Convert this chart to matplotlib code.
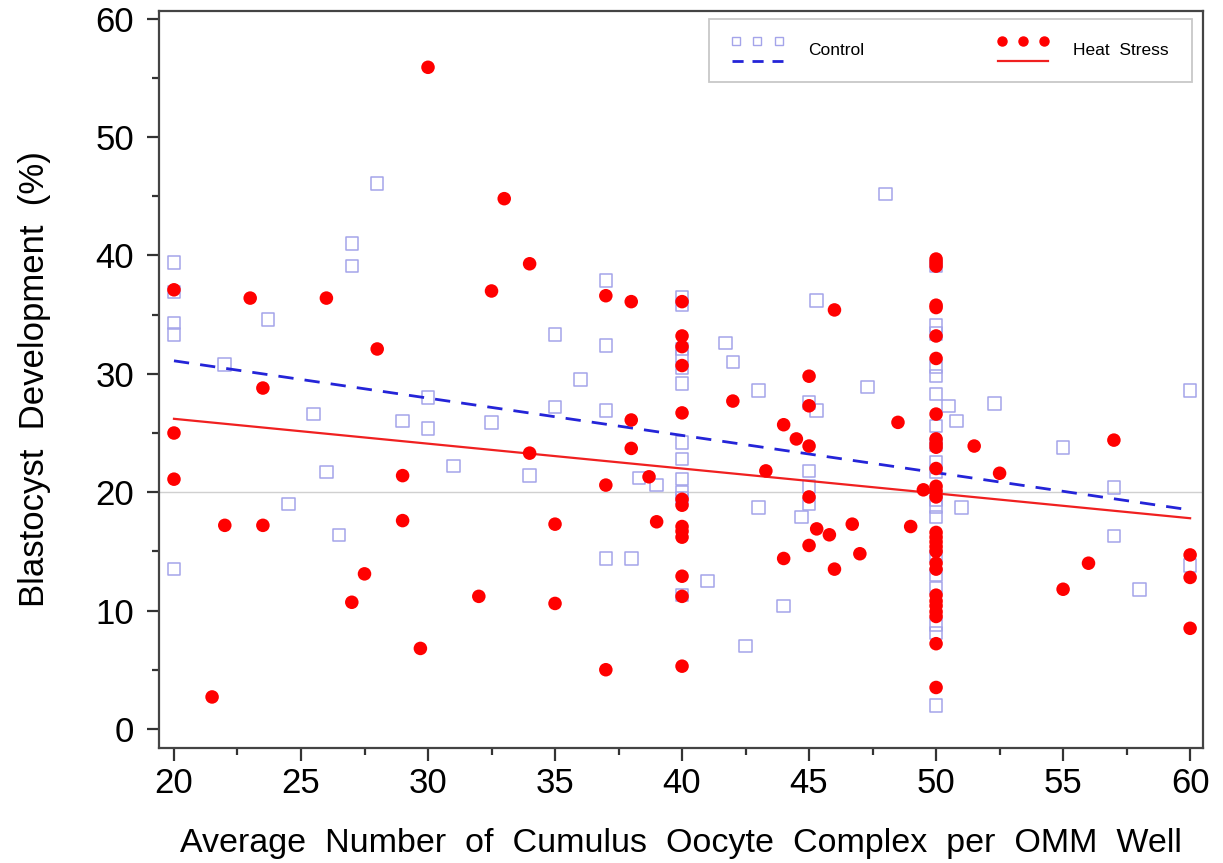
import numpy as np
import matplotlib
matplotlib.use("Agg")
import matplotlib.pyplot as plt
from matplotlib.lines import Line2D
from matplotlib.legend_handler import HandlerBase

plt.rcParams['font.family'] = ['Liberation Sans', 'DejaVu Sans']

# Control (open squares)
control_x = [20, 20, 20, 20, 20,
             22, 23.7, 24.5, 25.5, 26, 26.5,
             27, 27, 28, 29, 30, 30, 31,
             32.5, 34, 35, 35, 36, 37, 37, 37, 37,
             38, 38.3, 39,
             40, 40, 40, 40, 40, 40, 40, 40, 40, 40, 40, 40,
             41, 41.7, 42, 42.5, 43, 43, 44,
             44.7, 45, 45.3, 45, 45, 45, 45.3,
             47.3, 48,
             50, 50, 50, 50, 50, 50, 50, 50, 50, 50, 50, 50, 50, 50, 50, 50, 50, 50, 50,
             50.5, 50.8, 51, 52.3, 55, 57, 57, 58, 60, 60]
control_y = [39.4, 36.9, 34.3, 33.3, 13.5,
             30.8, 34.6, 19.0, 26.6, 21.7, 16.4,
             41.0, 39.1, 46.1, 26.0, 28.0, 25.4, 22.2,
             25.9, 21.4, 33.3, 27.2, 29.5, 37.9, 32.4, 26.9, 14.4,
             14.4, 21.2, 20.6,
             36.5, 35.8, 32.1, 31.5, 30.5, 29.2, 24.2, 22.8, 21.1, 20.0, 19.5, 11.3,
             12.5, 32.6, 31.0, 7.0, 28.6, 18.7, 10.4,
             17.9, 27.6, 26.9, 21.8, 20.5, 19.0, 36.2,
             28.9, 45.2,
             39.1, 34.1, 33.4, 30.6, 29.8, 28.3, 25.6, 24.0, 22.5, 21.7, 19.4, 18.8, 17.9,
             14.6, 13.0, 11.9, 8.8, 8.1, 2.0,
             27.3, 26.0, 18.7, 27.5, 23.8, 20.4, 16.3, 11.8, 13.8, 28.6]

# Heat stress (filled circles)
heat_x = [20, 20, 20, 21.5, 22, 23, 23.5, 23.5, 26,
          27, 27.5, 28, 29, 29, 29.7, 30, 32, 32.5,
          33, 34, 34, 35, 35, 37, 37, 37,
          38, 38, 38, 38.7, 39,
          40, 40, 40, 40, 40, 40, 40, 40, 40, 40, 40, 40, 40,
          42, 43.3, 44, 44, 44.5, 45, 45, 45, 45, 45, 45.3, 45.8, 46, 46, 46.7, 47, 48.5, 49, 49.5,
          50, 50, 50, 50, 50, 50, 50, 50, 50, 50, 50, 50, 50, 50, 50,
          50, 50, 50, 50, 50, 50, 50, 50, 50, 50, 50, 50, 50, 50,
          51.5, 52.5, 55, 56, 57, 60, 60, 60]
heat_y = [37.1, 25.0, 21.1, 2.7, 17.2, 36.4, 28.8, 17.2, 36.4,
          10.7, 13.1, 32.1, 21.4, 17.6, 6.8, 55.9, 11.2, 37.0,
          44.8, 39.3, 23.3, 17.3, 10.6, 36.6, 20.6, 5.0,
          36.1, 26.1, 23.7, 21.3, 17.5,
          36.1, 33.2, 32.3, 30.7, 26.7, 19.4, 18.9, 17.1, 16.7, 16.2, 12.9, 11.2, 5.3,
          27.7, 21.8, 25.7, 14.4, 24.5, 29.8, 27.3, 23.9, 19.6, 15.5, 16.9, 16.4, 13.5, 35.4,
          17.3, 14.8, 25.9, 17.1, 20.2,
          39.7, 39.4, 39.1, 35.8, 35.6, 33.2, 31.3, 26.6, 24.5, 24.1, 23.8, 22.0, 20.5, 20.1, 19.6,
          16.6, 16.2, 15.8, 15.4, 15.0, 14.0, 13.5, 11.3, 10.8, 10.4, 9.9, 9.5, 7.2, 3.5,
          23.9, 21.6, 11.8, 14.0, 24.4, 14.7, 12.8, 8.5]

# fitted regression lines (end points)
fit_x = [20, 60]
control_fit = [31.1, 18.5]
heat_fit = [26.2, 17.8]
ref_y = 20

sq_col = '#a4a4ea'
dash_col = '#2424d8'
red = '#ff0000'


class RowHandler(HandlerBase):
    # three markers on top, a line below (SAS style legend entry)
    def __init__(self, marker, mfc, mec, ms, ls, lc):
        super().__init__()
        self.m = (marker, mfc, mec, ms)
        self.l = (ls, lc)

    def create_artists(self, legend, orig, xd, yd, w, h, fontsize, trans):
        marker, mfc, mec, ms = self.m
        ls, lc = self.l
        xs = np.linspace(-xd + w * 0.08, -xd + w * 0.92, 3)
        pts = Line2D(xs, [h * 1.1 - yd] * 3, ls='none', marker=marker,
                     markerfacecolor=mfc, markeredgecolor=mec, markersize=ms,
                     transform=trans)
        ln = Line2D([-xd, -xd + w], [h * -0.4 - yd] * 2, ls=ls, color=lc,
                    lw=2 if ls == '--' else 1.6, transform=trans)
        if ls == '--':
            ln.set_dashes([4, 3.2])
        return [pts, ln]


fig = plt.figure(figsize=(12.23, 8.63), dpi=100)
ax = fig.add_axes([0.1300, 0.1333, 0.8537, 0.8540])

ax.axhline(ref_y, color='#d0d0d0', lw=1, zorder=1)
ax.scatter(control_x, control_y, marker='s', s=82, facecolors='none',
           edgecolors=sq_col, linewidths=1.1, zorder=2)
ax.scatter(heat_x, heat_y, marker='o', s=95, color=red, edgecolors='none', zorder=4)
ax.plot(fit_x, control_fit, color=dash_col, lw=2, dashes=(5.5, 4), zorder=3)
ax.plot(fit_x, heat_fit, color='#f02020', lw=1.6, zorder=3)

ax.set_xlim(19.41, 60.51)
ax.set_ylim(-1.61, 60.66)
ax.set_xticks(np.arange(20, 61, 5))
ax.set_xticks(np.arange(22.5, 60, 5), minor=True)
ax.set_yticks(np.arange(0, 61, 10))
ax.set_yticks(np.arange(5, 60, 10), minor=True)
ax.tick_params(which='major', length=9, width=1.6, color='#333333', labelsize=25, pad=5)
ax.tick_params(which='minor', length=5, width=1.6, color='#333333')
ax.tick_params(axis='y', which='major', pad=9)
for s in ax.spines.values():
    s.set_color('#444444')
    s.set_linewidth(1.6)

ax.set_xlabel('Average  Number  of  Cumulus  Oocyte  Complex  per  OMM  Well', fontsize=24.5, labelpad=20)
ax.set_ylabel('Blastocyst  Development  (%)', fontsize=25, labelpad=32)

h1 = Line2D([], [])
h2 = Line2D([], [])
leg = ax.legend([h1, h2], ['Control', 'Heat  Stress'], ncol=2,
                handler_map={h1: RowHandler('s', 'none', sq_col, 6, '--', dash_col),
                             h2: RowHandler('o', red, red, 6.5, '-', '#f02020')},
                loc='upper right', bbox_to_anchor=(0.9895, 0.989), fontsize=12.5,
                handlelength=2.9, handleheight=0.8, handletextpad=1.45, columnspacing=7.7,
                borderpad=1.35, borderaxespad=0, frameon=True, fancybox=False, edgecolor='#bbbbbb')
leg.get_frame().set_linewidth(1.3)

fig.savefig('out.png', dpi=100)
